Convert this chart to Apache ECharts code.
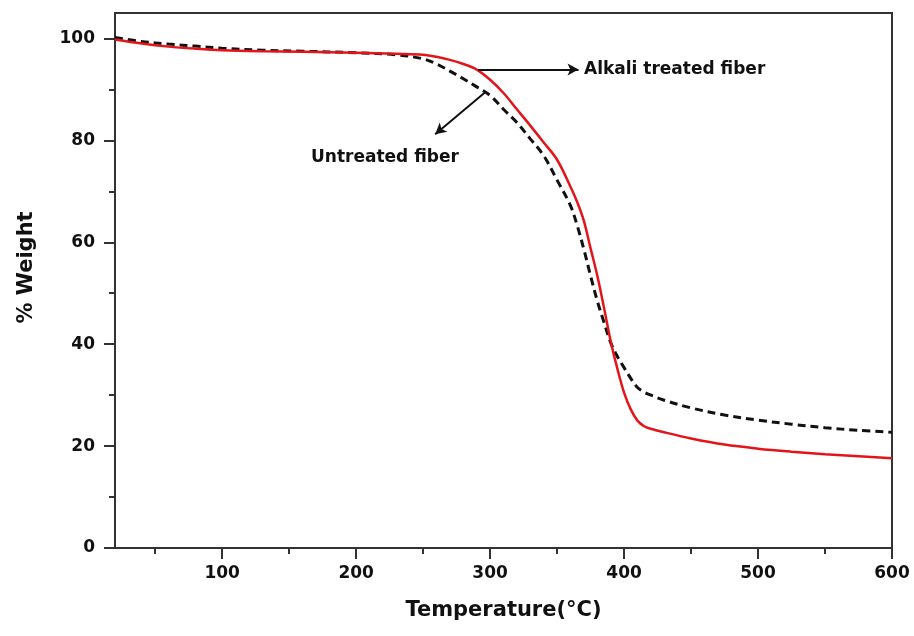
<!DOCTYPE html>
<html>
<head>
<meta charset="utf-8">
<script src="https://cdn.jsdelivr.net/npm/echarts@6/dist/echarts.min.js"></script>
<style>
  html, body { margin: 0; padding: 0; background: #fff; }
  #main { width: 914px; height: 636px; }
</style>
</head>
<body>
<div id="main"></div>
<script>
// temperatures (°C) and % weight
const temps = [20, 40, 60, 80, 100, 130, 160, 200, 230, 250, 260, 270, 280, 290, 300, 310, 320, 330, 340, 350,
  360, 365, 370, 375, 380, 385, 390, 395, 400, 405, 410, 415, 420, 430, 450, 475, 500, 525, 550, 575, 600]
const alkali = [99.8, 99.0, 98.4, 98.0, 97.7, 97.5, 97.4, 97.2, 97.0, 96.8, 96.4, 95.8, 95.0, 93.9, 91.9, 89.3, 86.1, 82.9, 79.6, 76.2,
  70.9, 67.9, 64.2, 58.8, 53.5, 47.2, 40.6, 35.2, 30.5, 27.2, 25.0, 23.9, 23.4, 22.7, 21.5, 20.3, 19.5, 18.9, 18.4, 18.0, 17.6]
const untreated = [100.2, 99.4, 98.9, 98.5, 98.1, 97.7, 97.5, 97.2, 96.8, 96.0, 95.0, 93.6, 92.1, 90.5, 88.8, 86.1, 83.5, 80.3, 77.0, 72.2,
  67.2, 63.3, 58.6, 53.4, 48.5, 44.3, 40.3, 37.6, 35.4, 33.3, 31.5, 30.6, 30.0, 29.0, 27.5, 26.1, 25.1, 24.3, 23.6, 23.1, 22.7]

// tick values
const xMajor = [100, 200, 300, 400, 500, 600]
const xMinor = [50, 150, 250, 350, 450, 550]
const yMajor = [0, 20, 40, 60, 80, 100]
const yMinor = [10, 30, 50, 70, 90]

// annotation arrows (data coords)
const alkaliArrow = [[291, 93.9], [366, 93.9]]
const untreatedArrow = [[297, 89.6], [259, 81.2]]

const FONT = 'DejaVu Sans'
const AXIS_COLOR = '#333'

function pairs(xs, ys) {
  return xs.map((x, i) => [x, ys[i]])
}

function tickStyle(len, values) {
  return { show: true, inside: false, length: len, customValues: values, lineStyle: { color: AXIS_COLOR, width: 2 } }
}

function majorAxis(extra) {
  return Object.assign({
    type: 'value',
    splitLine: { show: false },
    axisLine: { show: true, onZero: false, lineStyle: { color: AXIS_COLOR, width: 2 } }
  }, extra)
}

function minorAxis(extra) {
  return Object.assign({
    type: 'value',
    splitLine: { show: false },
    axisLine: { show: false },
    axisLabel: { show: false }
  }, extra)
}

const labelStyle = { color: '#111', fontFamily: FONT, fontWeight: 'bold', fontSize: 17 }
const nameStyle = { color: '#111', fontFamily: FONT, fontWeight: 'bold', fontSize: 21 }

const chart = echarts.init(document.getElementById('main'), null, { renderer: 'canvas' })

chart.setOption({
  backgroundColor: '#fff',
  animation: false,
  grid: {
    left: 115, right: 22, top: 13, bottom: 88,
    show: true, borderColor: AXIS_COLOR, borderWidth: 2
  },
  xAxis: [
    majorAxis({
      min: 20, max: 600, position: 'bottom',
      axisTick: tickStyle(11, xMajor),
      axisLabel: Object.assign({ customValues: xMajor, margin: 17 }, labelStyle),
      name: 'Temperature(°C)', nameLocation: 'middle', nameGap: 52,
      nameTextStyle: nameStyle
    }),
    minorAxis({
      min: 20, max: 600, position: 'bottom',
      axisTick: tickStyle(6, xMinor)
    })
  ],
  yAxis: [
    majorAxis({
      min: 0, max: 105, position: 'left',
      axisTick: tickStyle(11, yMajor),
      axisLabel: Object.assign({ customValues: yMajor, margin: 20 }, labelStyle),
      name: '% Weight', nameLocation: 'middle', nameGap: 78,
      nameTextStyle: Object.assign({ padding: [0, 0, 0, 26] }, nameStyle)
    }),
    minorAxis({
      min: 0, max: 105, position: 'left',
      axisTick: tickStyle(6, yMinor)
    })
  ],
  series: [
    {
      name: 'Untreated fiber',
      type: 'line',
      data: pairs(temps, untreated),
      showSymbol: false,
      smooth: 0.35,
      lineStyle: { color: '#111', width: 3, type: [8, 5] },
      markLine: {
        silent: true,
        symbol: ['none', 'arrow'],
        symbolSize: [9, 11],
        label: { show: false },
        lineStyle: { color: '#111', width: 2, type: 'solid' },
        data: [[{ coord: untreatedArrow[0] }, { coord: untreatedArrow[1] }]]
      },
      z: 3
    },
    {
      name: 'Alkali treated fiber',
      type: 'line',
      data: pairs(temps, alkali),
      showSymbol: false,
      smooth: 0.35,
      lineStyle: { color: '#e3151b', width: 2.5 },
      markLine: {
        silent: true,
        symbol: ['none', 'arrow'],
        symbolSize: [9, 11],
        label: { show: false },
        lineStyle: { color: '#111', width: 2, type: 'solid' },
        data: [[{ coord: alkaliArrow[0] }, { coord: alkaliArrow[1] }]]
      },
      z: 4
    }
  ],
  graphic: [
    {
      type: 'text', left: 584, top: 61,
      style: { text: 'Alkali treated fiber', fill: '#111', font: 'bold 17px "DejaVu Sans"' }
    },
    {
      type: 'text', left: 311, top: 149,
      style: { text: 'Untreated fiber', fill: '#111', font: 'bold 17px "DejaVu Sans"' }
    }
  ]
})
</script>
</body>
</html>
